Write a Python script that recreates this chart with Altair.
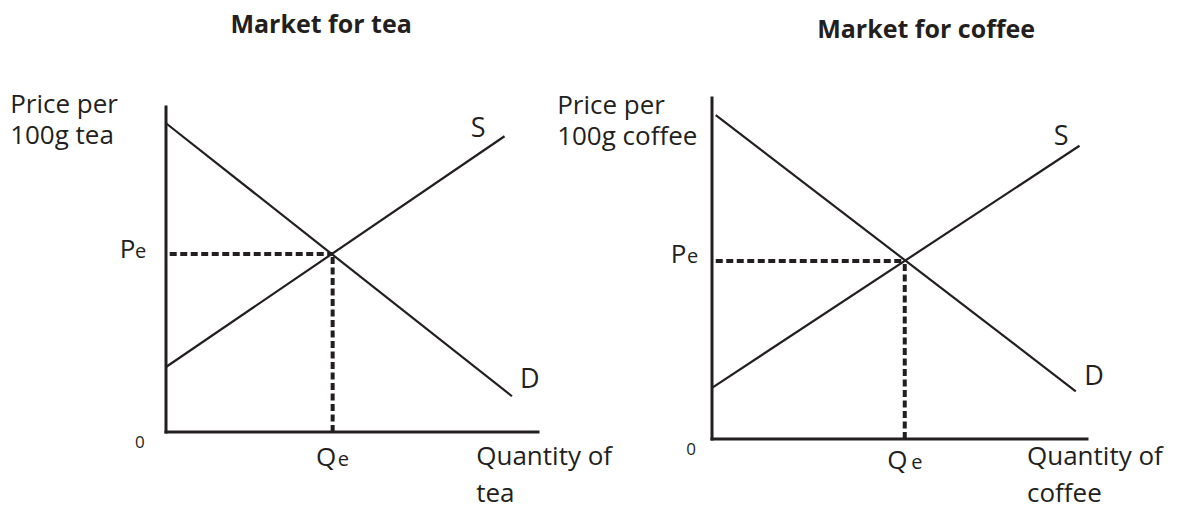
import altair as alt
import pandas as pd

INK = "#231f20"
FONT = "Open Sans"

# ---------------- data (quantity / price, axis length = 100 units) -------------
# Market for tea
tea_curve = ["D", "D", "S", "S"]
tea_q = [0, 93, 0, 91]
tea_p = [95, 11, 20, 91]
tea_qe = 44.8
tea_pe = 54.8

# Market for coffee
coffee_curve = ["D", "D", "S", "S"]
coffee_q = [1, 97, 0, 98]
coffee_p = [95, 14, 15, 86]
coffee_qe = 51.4
coffee_pe = 52.2

# text annotations: (text, kind, q, p)
tea_labels = [
    ("Market for tea", "title", 41.7, 122.8),
    ("Price per", "axis", -41.9, 98.2),
    ("100g tea", "axis", -41.9, 88.6),
    ("Quantity of", "axis", 83.4, -10.2),
    ("tea", "axis", 83.4, -21.5),
    ("S", "curve", 83.9, 90.8),
    ("D", "curve", 97.8, 13.5),
    ("P", "main", -12.4, 53.5),
    ("e", "sub", -8.3, 53.5),
    ("Q", "main", 40.3, -10.5),
    ("e", "sub", 46.2, -10.5),
    ("0", "zero", -7.0, -4.9),
]
coffee_labels = [
    ("Market for coffee", "title", 57.1, 117.6),
    ("Price per", "axis", -41.3, 95.3),
    ("100g coffee", "axis", -41.3, 86.2),
    ("Quantity of", "axis", 84.0, -7.6),
    ("coffee", "axis", 84.0, -18.5),
    ("S", "curve", 93.1, 86.2),
    ("D", "curve", 101.9, 15.8),
    ("P", "main", -11.0, 51.6),
    ("e", "sub", -6.7, 51.6),
    ("Q", "main", 46.7, -8.8),
    ("e", "sub", 53.1, -8.8),
    ("0", "zero", -5.6, -4.7),
]

# ---------------- layout (plot frame of each panel, px) ----------------
PANEL_H = 496
tea_frame = dict(width=576, ox=158, oy=424, kx=3.72, ky=3.25)
coffee_frame = dict(width=589, ox=128, oy=431, kx=3.75, ky=3.41)

TEXT_STYLE = {
    "title": dict(fontSize=25, fontWeight="bold", align="center"),
    "axis": dict(fontSize=26, align="left"),
    "curve": dict(fontSize=27, align="center"),
    "main": dict(fontSize=26, align="left"),
    "sub": dict(fontSize=20, align="left"),
    "zero": dict(fontSize=17, align="center"),
}


def panel(curve, q, p, qe, pe, labels, frame):
    W = frame["width"]
    xs = alt.Scale(domain=[-frame["ox"] / frame["kx"], (W - frame["ox"]) / frame["kx"]],
                   nice=False, zero=False)
    ys = alt.Scale(domain=[-(PANEL_H - frame["oy"]) / frame["ky"], frame["oy"] / frame["ky"]],
                   nice=False, zero=False)
    X = lambda f: alt.X(f, type="quantitative", scale=xs, axis=None)
    Y = lambda f: alt.Y(f, type="quantitative", scale=ys, axis=None)

    axes_df = pd.DataFrame({"q": [0, 0], "p": [0, 0], "q2": [100, 0], "p2": [0, 100]})
    axes = alt.Chart(axes_df).mark_rule(color=INK, strokeWidth=3, strokeCap="square").encode(
        x=X("q"), y=Y("p"), x2="q2", y2="p2")

    curves_df = pd.DataFrame({"curve": curve, "q": q, "p": p})
    curves = alt.Chart(curves_df).mark_line(color=INK, strokeWidth=2.2).encode(
        x=X("q"), y=Y("p"), detail="curve:N")

    guide_df = pd.DataFrame({"q": [1.0, qe], "p": [pe, 0], "q2": [qe, qe], "p2": [pe, pe]})
    guides = alt.Chart(guide_df).mark_rule(color=INK, strokeWidth=4, strokeDash=[7, 3.5]).encode(
        x=X("q"), y=Y("p"), x2="q2", y2="p2")

    lab_df = pd.DataFrame(labels, columns=["text", "kind", "q", "p"])
    texts = []
    for kind, st in TEXT_STYLE.items():
        texts.append(
            alt.Chart(lab_df).transform_filter(alt.datum.kind == kind)
            .mark_text(color=INK, font=FONT, baseline="alphabetic", **st)
            .encode(x=X("q"), y=Y("p"), text="text:N")
        )
    return alt.layer(axes, curves, guides, *texts).properties(width=W, height=PANEL_H)


left = panel(tea_curve, tea_q, tea_p, tea_qe, tea_pe, tea_labels, tea_frame)
right = panel(coffee_curve, coffee_q, coffee_p, coffee_qe, coffee_pe, coffee_labels, coffee_frame)

chart = (
    alt.hconcat(left, right, spacing=0, bounds="flush", padding=0)
    .configure(background="white")
    .configure_view(strokeWidth=0)
)

chart.save("out.html", embed_options={"renderer": "svg", "actions": False})
